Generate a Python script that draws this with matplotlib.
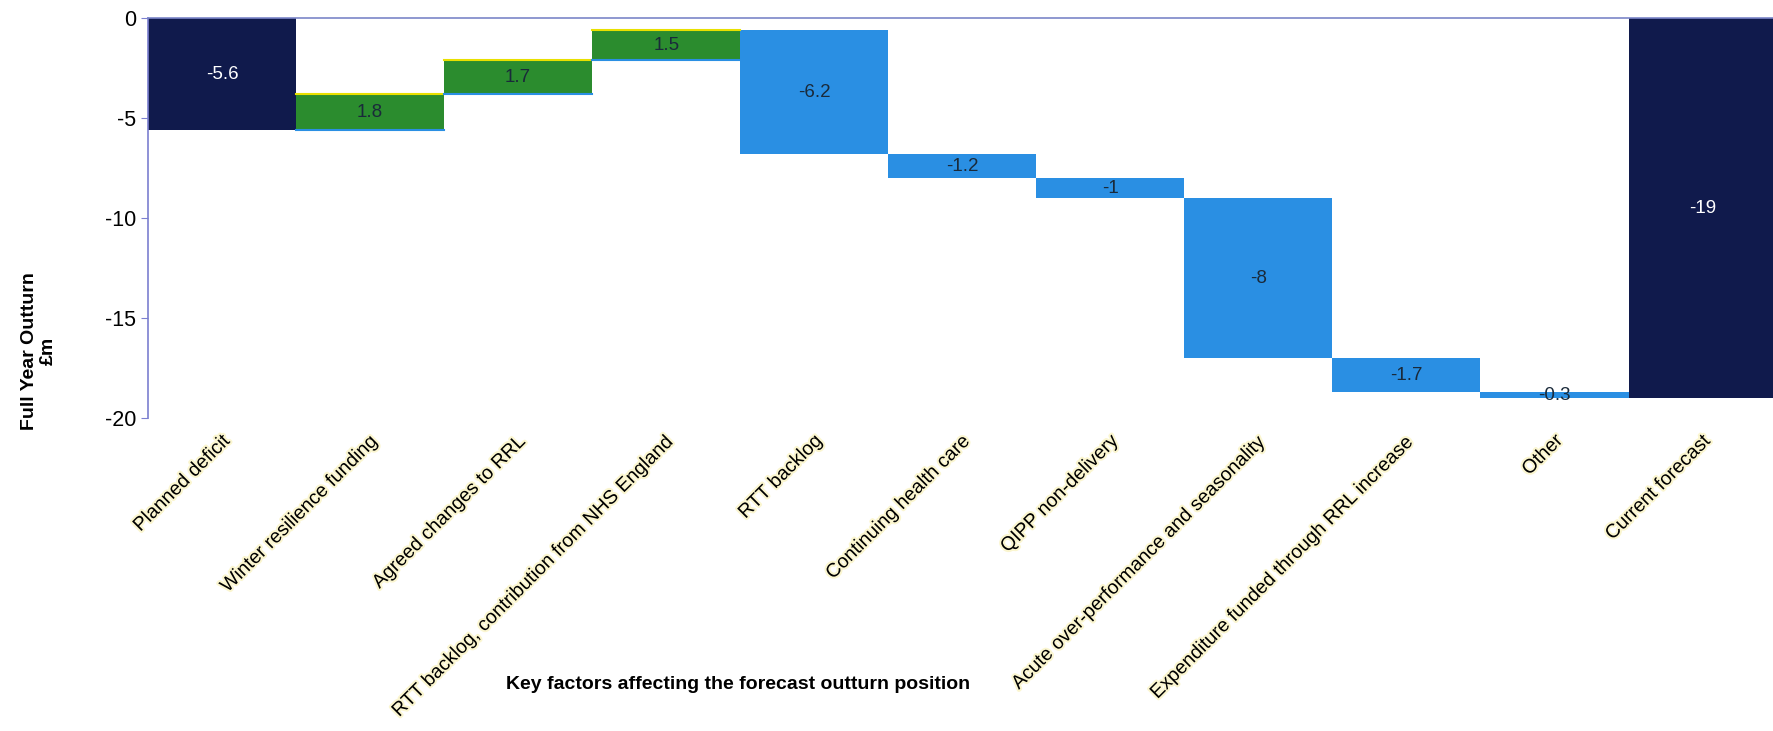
import matplotlib
matplotlib.use("Agg")
import matplotlib.pyplot as plt
import matplotlib.patheffects as pe
import numpy as np

plt.rcParams['font.family'] = ['Liberation Sans', 'DejaVu Sans']

# waterfall data (GBP m)
categories = ["Planned deficit", "Winter resilience funding", "Agreed changes to RRL",
              "RTT backlog, contribution from NHS England", "RTT backlog",
              "Continuing health care", "QIPP non-delivery",
              "Acute over-performance and seasonality",
              "Expenditure funded through RRL increase", "Other", "Current forecast"]
changes = [-5.6, 1.8, 1.7, 1.5, -6.2, -1.2, -1, -8, -1.7, -0.3]
total = -19
labels = ["-5.6", "1.8", "1.7", "1.5", "-6.2", "-1.2", "-1", "-8", "-1.7", "-0.3", "-19"]

navy = "#101a4c"
green = "#2b8c2e"
blue = "#2a8fe3"

# build bottoms / heights
bottoms = []
heights = []
colors = []
run = 0.0
for i, c in enumerate(changes):
    if i == 0:
        bottoms.append(0.0)
        heights.append(c)
        colors.append(navy)
    else:
        bottoms.append(run)
        heights.append(c)
        colors.append(green if c > 0 else blue)
    run += c
bottoms.append(0.0)
heights.append(total)
colors.append(navy)

x = np.arange(len(categories))

fig = plt.figure(figsize=(17.73, 7.31), dpi=100)
ax = fig.add_axes([0.0835, 0.428, 0.9185, 0.547])

bars = ax.bar(x, heights, bottom=bottoms, width=1.0, color=colors, linewidth=0)

# yellowish top edge on the green bars
for i in range(len(categories)):
    if colors[i] == green:
        top = bottoms[i] + heights[i]
        ax.plot([x[i] - 0.5, x[i] + 0.5], [top, top], color="#e8e000", lw=1.5, zorder=3)
        ax.plot([x[i] - 0.5, x[i] + 0.5], [bottoms[i], bottoms[i]], color=blue, lw=1.5, zorder=3)

for i, lab in enumerate(labels):
    yc = bottoms[i] + heights[i] / 2
    col = "white" if colors[i] == navy else "#1a2a3a"
    ax.text(x[i], yc, lab, ha="center", va="center", fontsize=13.5, color=col)

ax.set_xlim(-0.5, len(categories) - 0.5)
ax.set_ylim(-20, 0)
ax.set_yticks([0, -5, -10, -15, -20])
ax.set_yticklabels(["0", "-5", "-10", "-15", "-20"], fontsize=15.5)

ax.set_xticks(x)
ax.set_xticklabels(categories, rotation=45, ha="right", rotation_mode="anchor", fontsize=14,
                   path_effects=[pe.withStroke(linewidth=3, foreground="#fbf6d0")])
ax.tick_params(axis="x", length=0, pad=10)
ax.tick_params(axis="y", length=5, color="#7b7fd0", direction="out")
ax.xaxis.tick_bottom()

for s in ["right", "bottom"]:
    ax.spines[s].set_visible(False)
ax.spines["left"].set_color("#7b7fd0")
ax.spines["top"].set_color("#7b86c8")
ax.spines["left"].set_linewidth(1.2)
ax.spines["top"].set_linewidth(1.2)

fig.text(0.022, 0.52, "Full Year Outturn\n£m", rotation=90, ha="center", va="center",
         fontsize=14, fontweight="bold", linespacing=1.1)
fig.text(0.416, 0.063, "Key factors affecting the forecast outturn position",
         ha="center", va="center", fontsize=14, fontweight="bold")

fig.savefig("out.png", dpi=100)
